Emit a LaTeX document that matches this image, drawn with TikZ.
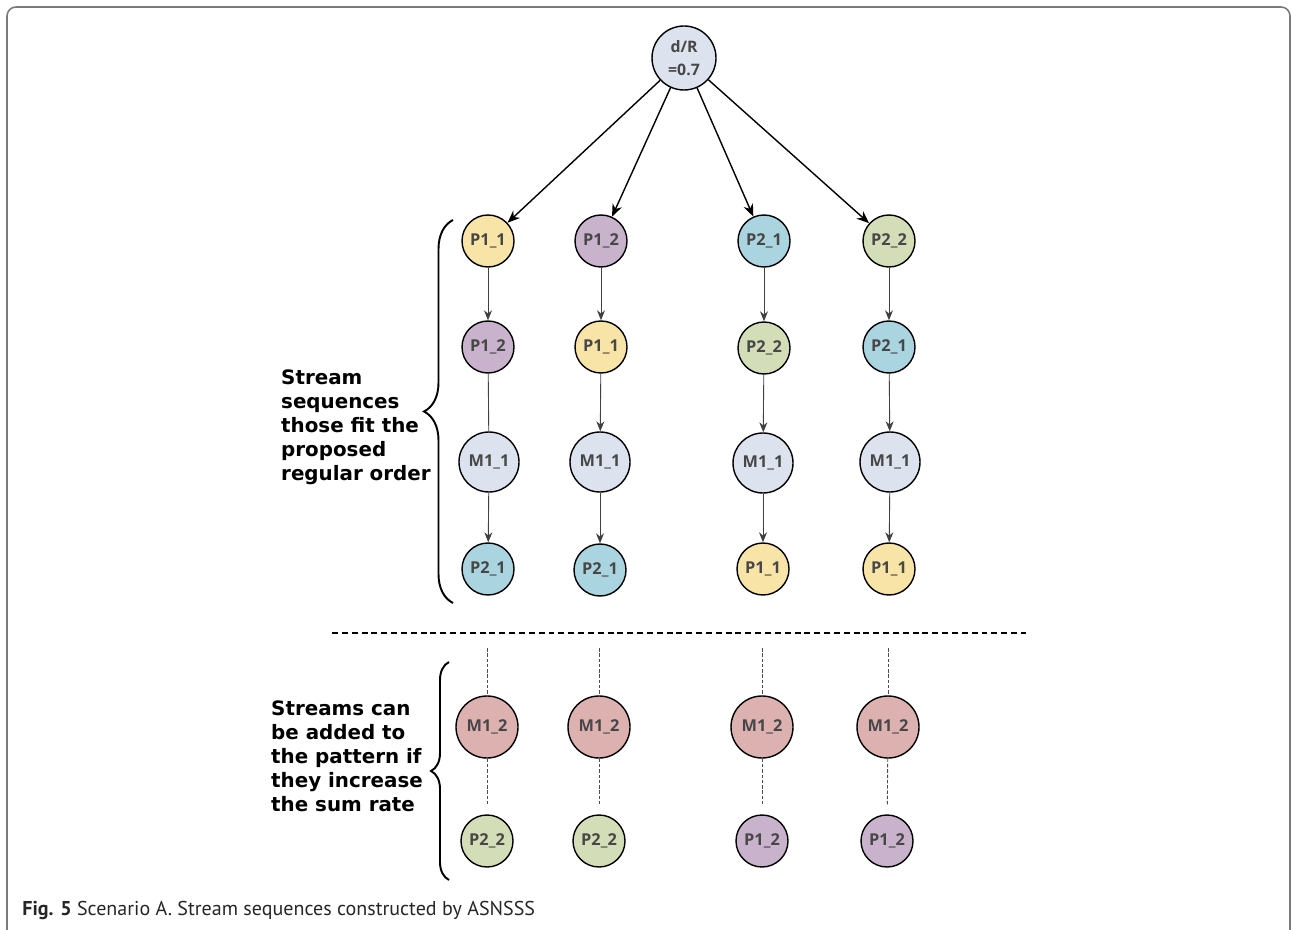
\documentclass[tikz,border=0pt]{standalone}
\usepackage{fontspec}
\setsansfont{Open Sans}
\newfontfamily\notefont{DejaVu Sans}
\newfontfamily\capfont{PT Sans}
\usepackage{tikz}
\usepackage{xcolor}
\usetikzlibrary{shapes, positioning, arrows.meta, decorations.pathreplacing}

\definecolor{pyellow}{HTML}{F8E4A6}
\definecolor{ppurple}{HTML}{C8B2CC}
\definecolor{pblue}{HTML}{A9D4E0}
\definecolor{pgreen}{HTML}{D3DEB8}
\definecolor{mgrey}{HTML}{DCE3EE}
\definecolor{mred}{HTML}{DEB1B1}
\definecolor{txtgrey}{HTML}{474747}
\definecolor{framegrey}{HTML}{7A7A7A}

\tikzset{
    stream/.style={circle, draw=black, line width=0.8pt, minimum size=1.04cm, inner sep=0pt,
        text=txtgrey, font=\sffamily\bfseries\fontsize{9.3}{10}\selectfont},
    mstream/.style={stream, minimum size=1.2cm},
    m2stream/.style={stream, minimum size=1.24cm, fill=mred},
    note/.style={align=left, anchor=west, font=\notefont\bfseries\fontsize{11.3}{13.7}\selectfont},
    seq/.style={draw=black!75, line width=0.5pt, -{Stealth[length=2mm, width=1.6mm]}},
    extra/.style={draw=black!70, line width=0.5pt, dashed, dash pattern=on 2pt off 1pt},
    sbrace/.style={decorate, line width=1.1pt},
}

\begin{document}
\begin{tikzpicture}
    \useasboundingbox (0, 0) rectangle (25.84, -18.6);
    \draw[framegrey, line width=0.9pt, rounded corners=0.18cm]
        (0.14, -19) -- (0.14, -0.14) -- (25.8, -0.14) -- (25.8, -19);

    % root
    \node[stream, fill=mgrey, minimum size=1.28cm, align=center,
        font=\sffamily\bfseries\fontsize{9}{13}\selectfont] (dR) at (13.68, -1.16) {d/R\\=0.7};

    % sequences
    \node[stream, fill=pyellow] (a1) at (9.76, -4.82) {P1\_1};
    \node[stream, fill=ppurple] (b1) at (12.02, -4.82) {P1\_2};
    \node[stream, fill=pblue] (c1) at (15.28, -4.82) {P2\_1};
    \node[stream, fill=pgreen] (d1) at (17.78, -4.82) {P2\_2};

    \node[stream, fill=ppurple] (a2) at (9.76, -6.94) {P1\_2};
    \node[stream, fill=pyellow] (b2) at (12.02, -6.94) {P1\_1};
    \node[stream, fill=pgreen] (c2) at (15.28, -6.96) {P2\_2};
    \node[stream, fill=pblue] (d2) at (17.78, -6.94) {P2\_1};

    \node[mstream, fill=mgrey] (a3) at (9.78, -9.24) {M1\_1};
    \node[mstream, fill=mgrey] (b3) at (12.0, -9.24) {M1\_1};
    \node[mstream, fill=mgrey] (c3) at (15.26, -9.26) {M1\_1};
    \node[mstream, fill=mgrey] (d3) at (17.8, -9.24) {M1\_1};

    \node[stream, fill=pblue] (a4) at (9.76, -11.38) {P2\_1};
    \node[stream, fill=pblue] (b4) at (12.0, -11.4) {P2\_1};
    \node[stream, fill=pyellow] (c4) at (15.26, -11.38) {P1\_1};
    \node[stream, fill=pyellow] (d4) at (17.78, -11.38) {P1\_1};

    \draw[->, >={Stealth[length=2.5mm, width=2mm]}, line width=0.8pt] (dR) -- (a1);
    \draw[->, >={Stealth[length=2.5mm, width=2mm]}, line width=0.8pt] (dR) -- (b1);
    \draw[->, >={Stealth[length=2.5mm, width=2mm]}, line width=0.8pt] (dR) -- (c1);
    \draw[->, >={Stealth[length=2.5mm, width=2mm]}, line width=0.8pt] (dR) -- (d1);

    \draw[seq] (a1) -- (a2);
    \draw[seq] (b1) -- (b2);
    \draw[seq] (c1) -- (c2);
    \draw[seq] (d1) -- (d2);
    \draw[draw=black!75, line width=0.5pt] (a2) -- (a3);
    \draw[seq] (b2) -- (b3);
    \draw[seq] (c2) -- (c3);
    \draw[seq] (d2) -- (d3);
    \draw[seq] (a3) -- (a4);
    \draw[seq] (b3) -- (b4);
    \draw[seq] (c3) -- (c4);
    \draw[seq] (d3) -- (d4);

    \draw[sbrace, decoration={brace, amplitude=0.58cm}] (9.06, -12.06) -- (9.06, -4.40);
    \node[note] (fitnote) at (5.5, -8.54) {Stream\\sequences\\those fit the\\proposed\\regular order};

    % separator
    \coordinate (sepl) at (6.64, -12.66);
    \coordinate (sepr) at (20.52, -12.66);
    \draw[line width=0.8pt, dash pattern=on 3.4pt off 2.2pt] (sepl) -- (sepr);

    % optional streams
    \node[m2stream] (a5) at (9.74, -14.54) {M1\_2};
    \node[m2stream] (b5) at (11.98, -14.54) {M1\_2};
    \node[m2stream] (c5) at (15.24, -14.54) {M1\_2};
    \node[m2stream] (d5) at (17.76, -14.54) {M1\_2};

    \node[stream, fill=pgreen] (a6) at (9.74, -16.82) {P2\_2};
    \node[stream, fill=pgreen] (b6) at (11.98, -16.82) {P2\_2};
    \node[stream, fill=ppurple] (c6) at (15.24, -16.82) {P1\_2};
    \node[stream, fill=ppurple] (d6) at (17.74, -16.82) {P1\_2};

    \coordinate (a0) at (9.74, -12.96);
    \coordinate (b0) at (11.98, -12.96);
    \coordinate (c0) at (15.24, -12.96);
    \coordinate (d0) at (17.76, -12.96);

    \draw[extra] (a0) -- (a5);
    \draw[extra] (b0) -- (b5);
    \draw[extra] (c0) -- (c5);
    \draw[extra] (d0) -- (d5);
    \draw[extra, shorten >=0.2cm] (a5) -- (a6);
    \draw[extra, shorten >=0.2cm] (b5) -- (b6);
    \draw[extra, shorten >=0.2cm] (c5) -- (c6);
    \draw[extra, shorten >=0.2cm] (d5) -- (d6);

    \draw[sbrace, decoration={brace, amplitude=0.36cm}] (8.98, -17.6) -- (8.98, -13.24);
    \node[note] (addnote) at (5.30, -15.12) {Streams can\\be added to\\the pattern if\\they increase\\the sum rate};

    % caption
    \node[anchor=west, inner sep=0pt, text=black!85, font=\capfont\fontsize{11.4}{13}\selectfont] (caption)
        at (0.44, -18.2) {\textbf{Fig. 5} Scenario A. Stream sequences constructed by ASNSSS};
\end{tikzpicture}
\end{document}
